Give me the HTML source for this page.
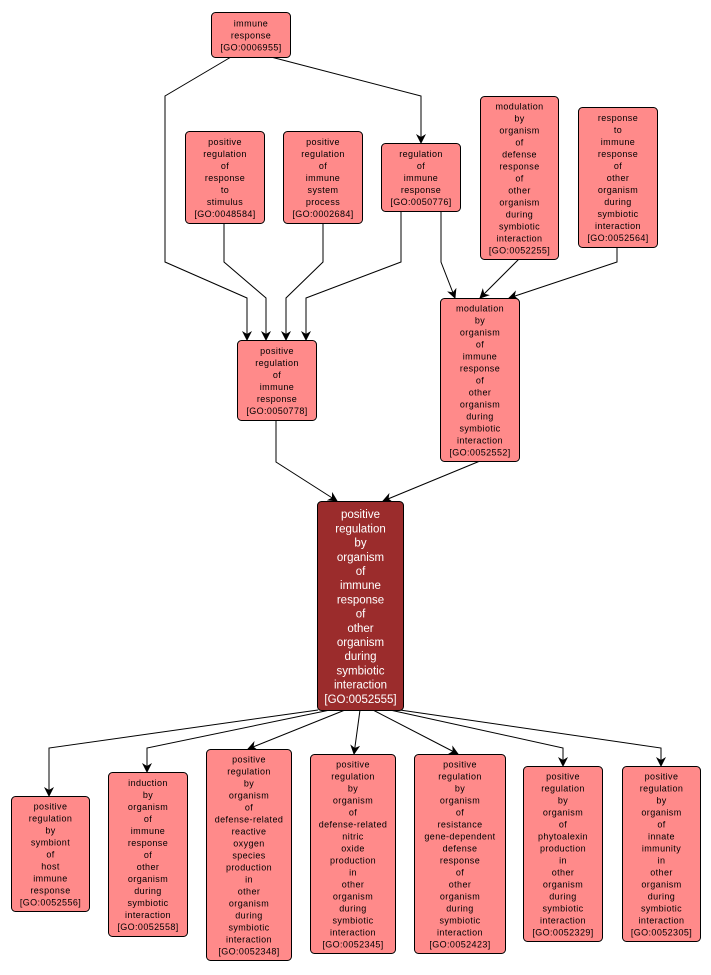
<!DOCTYPE html>
<html><head><meta charset="utf-8"><style>
html,body{margin:0;padding:0;background:#fff;width:711px;height:975px;overflow:hidden}
svg{display:block}
text{font-family:"Liberation Sans",sans-serif;font-size:9px;fill:#000;text-anchor:middle;letter-spacing:0.4px}
.m text{fill:#fff;font-size:11.5px;letter-spacing:0}
</style></head><body>
<svg id="s" width="711" height="975" viewBox="0 0 711 975" xmlns="http://www.w3.org/2000/svg">
<defs><marker id="a" viewBox="0 0 10 10" refX="9" refY="5" markerWidth="10" markerHeight="10" markerUnits="userSpaceOnUse" orient="auto"><path d="M0,0 L10,5 L0,10 L3,5 z" fill="#000"/></marker></defs>
<g fill="none" stroke="#000" stroke-width="1" marker-end="url(#a)">
<polyline points="231,57 165,96 165,262 247,298 247,340"/>
<polyline points="271,57 421,96 421,143"/>
<polyline points="224,223 224,262 266,298 266,340"/>
<polyline points="323,223 323,262 286,298 286,340"/>
<polyline points="401,211 401,262 306,298 306,340"/>
<polyline points="441,211 441,262 455,298"/>
<polyline points="519,259 480,298"/>
<polyline points="617,247 617,262 509,298"/>
<polyline points="276,420 276,462 337,501"/>
<polyline points="480,461 383,501"/>
<polyline points="318,710 49,748 49,796"/>
<polyline points="330,710 147,748 147,772"/>
<polyline points="345,710 248,749"/>
<polyline points="360,710 354,754"/>
<polyline points="373,710 458,754"/>
<polyline points="390,710 563,748 563,766"/>
<polyline points="400,710 661,748 661,766"/>
</g>
<g id="n"></g>
</svg>
<script>
var N=[
[211,12,79,45,"immune|response|[GO:0006955]"],
[185,131,79,92,"positive|regulation|of|response|to|stimulus|[GO:0048584]"],
[283,131,79,92,"positive|regulation|of|immune|system|process|[GO:0002684]"],
[381,143,79,68,"regulation|of|immune|response|[GO:0050776]"],
[480,96,78,163,"modulation|by|organism|of|defense|response|of|other|organism|during|symbiotic|interaction|[GO:0052255]"],
[578,107,79,140,"response|to|immune|response|of|other|organism|during|symbiotic|interaction|[GO:0052564]"],
[237,340,79,80,"positive|regulation|of|immune|response|[GO:0050778]"],
[440,298,79,163,"modulation|by|organism|of|immune|response|of|other|organism|during|symbiotic|interaction|[GO:0052552]"],
[11,796,78,115,"positive|regulation|by|symbiont|of|host|immune|response|[GO:0052556]"],
[108,772,79,164,"induction|by|organism|of|immune|response|of|other|organism|during|symbiotic|interaction|[GO:0052558]"],
[206,749,85,211,"positive|regulation|by|organism|of|defense-related|reactive|oxygen|species|production|in|other|organism|during|symbiotic|interaction|[GO:0052348]"],
[310,754,85,199,"positive|regulation|by|organism|of|defense-related|nitric|oxide|production|in|other|organism|during|symbiotic|interaction|[GO:0052345]"],
[414,754,91,199,"positive|regulation|by|organism|of|resistance|gene-dependent|defense|response|of|other|organism|during|symbiotic|interaction|[GO:0052423]"],
[523,766,79,175,"positive|regulation|by|organism|of|phytoalexin|production|in|other|organism|during|symbiotic|interaction|[GO:0052329]"],
[622,766,78,175,"positive|regulation|by|organism|of|innate|immunity|in|other|organism|during|symbiotic|interaction|[GO:0052305]"]
];
var g=document.getElementById('n'),h='';
function box(x,y,w,hh,t,main){
 var L=t.split('|'),lh=main?14.2:12,fill=main?'#9b2c2c':'#ff8a8a';
 var s='<g'+(main?' class="m"':'')+'><rect x="'+(x+.5)+'" y="'+(y+.5)+'" width="'+w+'" height="'+hh+'" rx="4" fill="'+fill+'" stroke="#000"/>';
 var y0=y+hh/2-(L.length-1)*lh/2+(main?5:4);
 for(var i=0;i<L.length;i++)s+='<text x="'+(x+w/2+.5)+'" y="'+(y0+i*lh)+'">'+L[i]+'</text>';
 return s+'</g>';
}
N.forEach(function(n){h+=box(n[0],n[1],n[2],n[3],n[4],false)});
h+=box(317,501,86,209,"positive|regulation|by|organism|of|immune|response|of|other|organism|during|symbiotic|interaction|[GO:0052555]",true);
g.innerHTML=h;
</script>
</body></html>
